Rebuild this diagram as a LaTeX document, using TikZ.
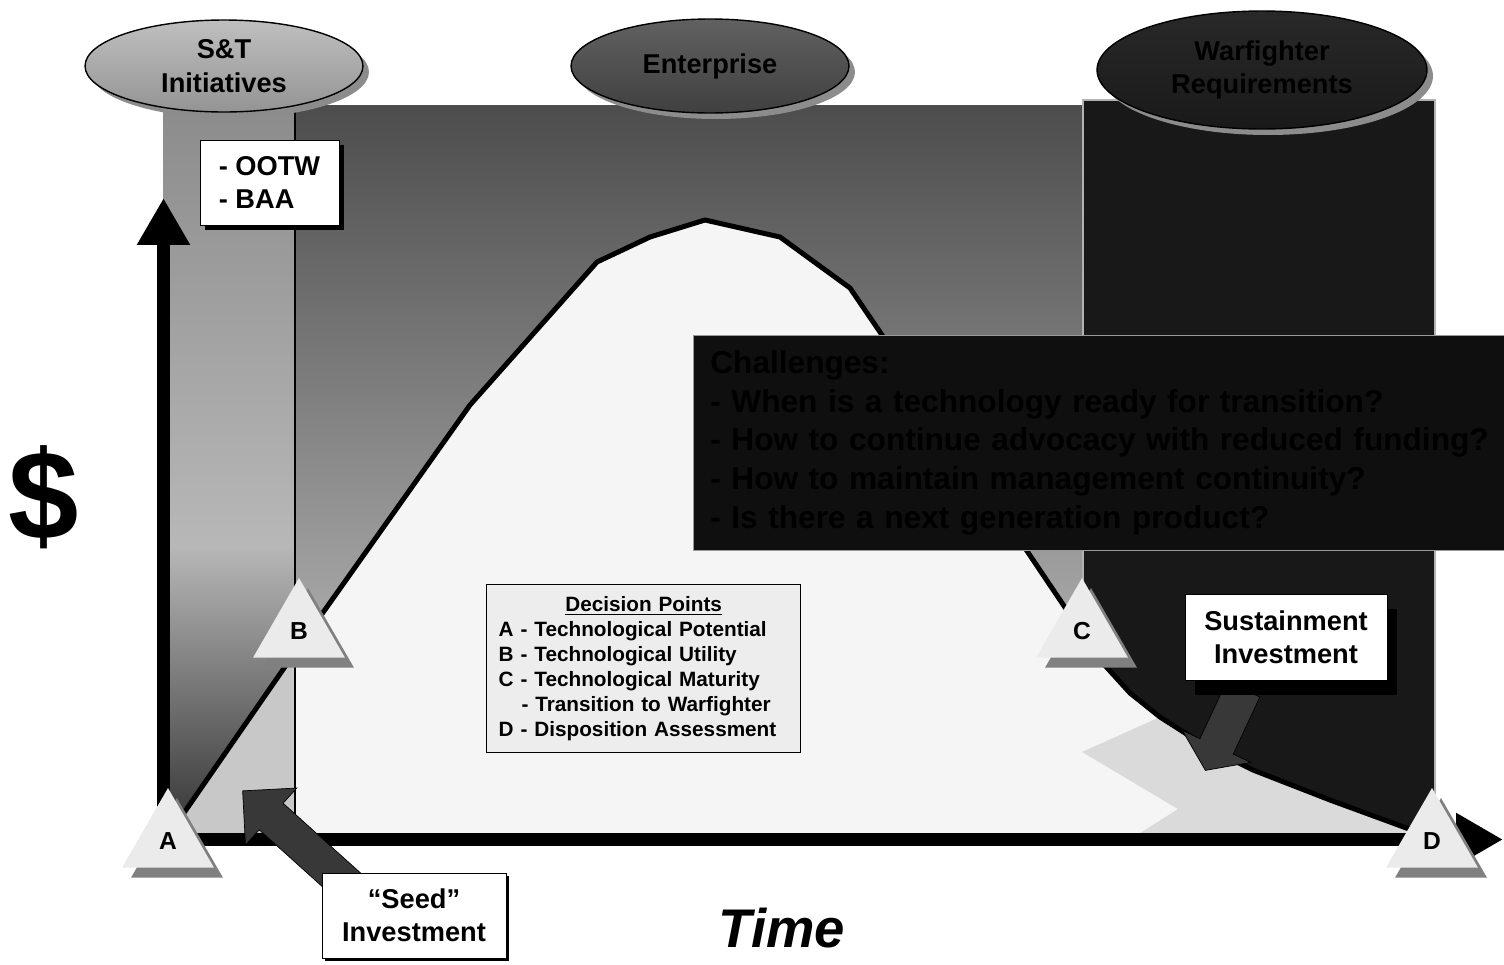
\documentclass[tikz,border=0pt]{standalone}
\usepackage{fontspec}
\setmainfont{Liberation Sans}
\usetikzlibrary{arrows.meta, positioning, shapes.geometric, shapes.arrows, shadows}

\definecolor{lowgray}{HTML}{C8C8C8}
\definecolor{papergray}{HTML}{F5F5F5}
\definecolor{tailgray}{HTML}{DADADA}
\definecolor{nightgray}{HTML}{181818}
\definecolor{arrowgray}{HTML}{383838}

% S&T strip: darker on top, light in the middle, dark at the bottom
\pgfdeclareverticalshading{stripshade}{100bp}{color(0bp)=(black!80); color(25bp)=(black!80); color(45bp)=(black!28); color(75bp)=(black!45); color(100bp)=(black!45)}

% life cycle curve (picture is laid out in pixel units)
\newcommand{\lifecurve}{(170,833) -- (300,645) -- (470,405) -- (597,262) -- (650,237) -- (705,220) -- (780,237) -- (850,288) -- (882,335) -- (960,450) -- (1025,548) -- (1060,600) -- (1100,660) -- (1130,693) -- (1160,717) -- (1207,747) -- (1253,770) -- (1330,800) -- (1420,833)}

\begin{document}
\begin{tikzpicture}[
    x=0.02cm, y=-0.02cm,
    bigtext/.style={font=\fontsize{15.5}{19}\selectfont\bfseries},
    bubble/.style={
        ellipse,
        draw,
        line width=0.8pt,
        align=center,
        inner sep=0pt,
        bigtext,
        drop shadow={opacity=1, fill=black!45, shadow xshift=0.12cm, shadow yshift=-0.12cm}
    },
    notebox/.style={
        rectangle,
        draw,
        fill=white,
        align=center,
        bigtext
    },
    gate/.style={
        regular polygon,
        regular polygon sides=3,
        minimum size=2.12cm,
        inner sep=0pt,
        fill=black!8,
        font=\fontsize{14}{16}\selectfont\bfseries,
        drop shadow={opacity=1, fill=black!50, shadow xshift=0.18cm, shadow yshift=-0.2cm}
    },
    fatarrow/.style={
        single arrow,
        draw,
        fill=arrowgray,
        inner xsep=0pt,
        inner ysep=0.35cm,
        single arrow head extend=0.41cm
    },
    axisline/.style={
        line width=0.26cm,
        {Triangle[width=1cm, length=0.94cm]}-{Triangle[width=1cm, length=0.94cm]}
    }
]
    \useasboundingbox (0,0) rectangle (1504,964);

    % backdrop: S&T strip, enterprise field, warfighter field
    \shade[shading=stripshade] (163,112) rectangle (295,835);
    \shade[top color=black!70, bottom color=black!20] (295,105) rectangle (1083,835);
    \filldraw[fill=nightgray, draw=black!30, line width=0.8pt] (1083,100) rectangle (1435,835);

    % area under the curve
    \begin{scope}
        \clip (295,0) rectangle (1435,835);
        \fill[papergray] \lifecurve -- (1420,835) -- (170,835) -- cycle;
    \end{scope}
    \begin{scope}
        \clip (163,0) rectangle (295,835);
        \fill[lowgray] \lifecurve -- (1420,835) -- (170,835) -- cycle;
    \end{scope}
    \fill[tailgray] (1160,717) -- (1082,752) -- (1178,809) -- (1137,835) -- (1420,835)
        -- (1330,800) -- (1253,770) -- (1207,747) -- cycle;

    \draw[line width=0.6pt] (295,112) -- (295,835);
    \draw[line width=0.1cm, line join=round] \lifecurve;

    % axes
    \coordinate (ytip) at (163.5,198);
    \coordinate (xtip) at (1503,839.5);
    \draw[axisline] (ytip) |- (xtip);

    % phases
    \node[bubble, minimum width=5.56cm, minimum height=1.84cm, top color=black!25, bottom color=black!42] (st) at (224,66) {S\&T\\Initiatives};
    \node[bubble, minimum width=5.56cm, minimum height=1.88cm, top color=black!62, bottom color=black!75] (enterprise) at (710,66) {Enterprise};
    \node[bubble, minimum width=6.6cm, minimum height=2.36cm, top color=black!84, bottom color=black!90] (warfighter) at (1262,70) {Warfighter\\Requirements};

    \node[notebox, align=left, minimum width=2.78cm, minimum height=1.7cm,
        drop shadow={opacity=1, fill=black, shadow xshift=0.1cm, shadow yshift=-0.1cm}] (ootw) at (269.5,182.5) {- OOTW\\- BAA};

    \node[draw=black!40, fill=black!94, text=black, anchor=north west, text width=16cm, inner xsep=0.34cm,
        minimum height=4.3cm, align=left, font=\fontsize{18}{22}\selectfont\bfseries] (challenges) at (693,335)
        {Challenges:\\- When is a technology ready for transition?\\- How to continue advocacy with reduced funding?\\- How to maintain management continuity?\\- Is there a next generation product?};

    \node[draw, line width=0.8pt, fill=black!7, anchor=north west, text width=5.8cm, inner xsep=0.24cm,
        minimum height=3.36cm, align=left, font=\fontsize{11.8}{14.2}\selectfont\bfseries] (decisions) at (486,584)
        {{\centering\underline{Decision Points}\par}A - Technological Potential\\B - Technological Utility\\C - Technological Maturity\\\hspace*{1.1em}- Transition to Warfighter\\D - Disposition Assessment};

    % investment arrows
    \node[fatarrow, minimum height=3cm, rotate=138] (seedarrow) at (305,847) {};
    \node[fatarrow, minimum height=1.79cm, inner ysep=0.36cm, single arrow head extend=0.39cm,
        single arrow tip angle=110, rotate=-115] (sustainarrow) at (1227,724) {};

    \node[notebox, minimum width=3.68cm, minimum height=1.7cm,
        drop shadow={opacity=1, fill=black, shadow xshift=0.06cm, shadow yshift=-0.06cm}] (seed) at (414,915.5) {“Seed”\\Investment};
    \node[notebox, minimum width=4.04cm, minimum height=1.72cm,
        drop shadow={opacity=1, fill=black, shadow xshift=0.2cm, shadow yshift=-0.3cm}] (sustain) at (1286,637) {Sustainment\\Investment};

    % decision points
    \node[gate] (ga) at (168,841) {A};
    \node[gate] (gb) at (299,631) {B};
    \node[gate] (gc) at (1082,631) {C};
    \node[gate] (gd) at (1432,841) {D};

    \node[font=\fontsize{72}{72}\selectfont\bfseries] (dollar) at (44,497) {\$};
    \node[font=\fontsize{31}{31}\selectfont\bfseries\itshape] (timelabel) at (782,928) {Time};

\end{tikzpicture}
\end{document}
